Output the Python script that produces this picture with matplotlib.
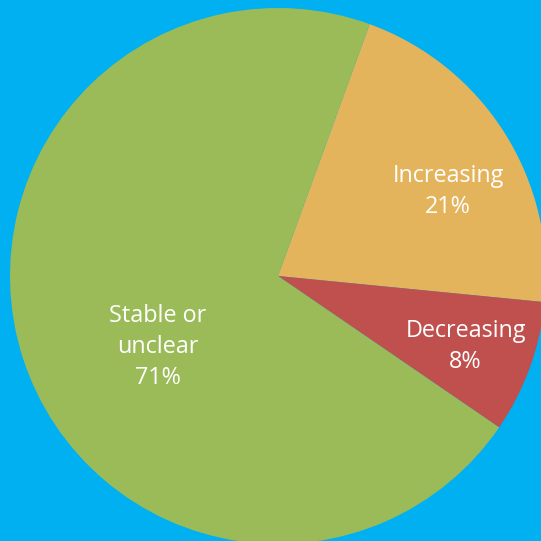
import matplotlib.pyplot as plt
import numpy as np

categories = ["Increasing", "Decreasing", "Stable or\nunclear"]
shares = [21, 8, 71]
colors = ["#E3B45C", "#C0504D", "#9BBB59"]
# label positions in units of the pie radius (x right, y up from the centre)
label_pos = [(0.635, 0.315), (0.70, -0.262), (-0.448, -0.265)]

fig = plt.figure(figsize=(5.41, 5.41), dpi=100)
fig.patch.set_facecolor("#00B0F0")
ax = fig.add_axes([0, 0, 1, 1])
ax.set_facecolor("#00B0F0")

ax.pie(shares, colors=colors, startangle=70, counterclock=False,
       radius=1, center=(0, 0), wedgeprops=dict(linewidth=0))

for name, val, (x, y) in zip(categories, shares, label_pos):
    ax.text(x, y, f"{name}\n{val}%", ha="center", va="center", color="white",
            fontsize=16.8, family="Open Sans", linespacing=1.38)

# put the centre at (278, 276) px with radius 268 px
scale = 541 / 268
xmin = -278 / 268
ymax = 276 / 268
ax.set_xlim(xmin, xmin + scale)
ax.set_ylim(ymax - scale, ymax)
ax.set_aspect("equal")
ax.axis("off")

fig.savefig("out.png", dpi=100, facecolor=fig.get_facecolor())
